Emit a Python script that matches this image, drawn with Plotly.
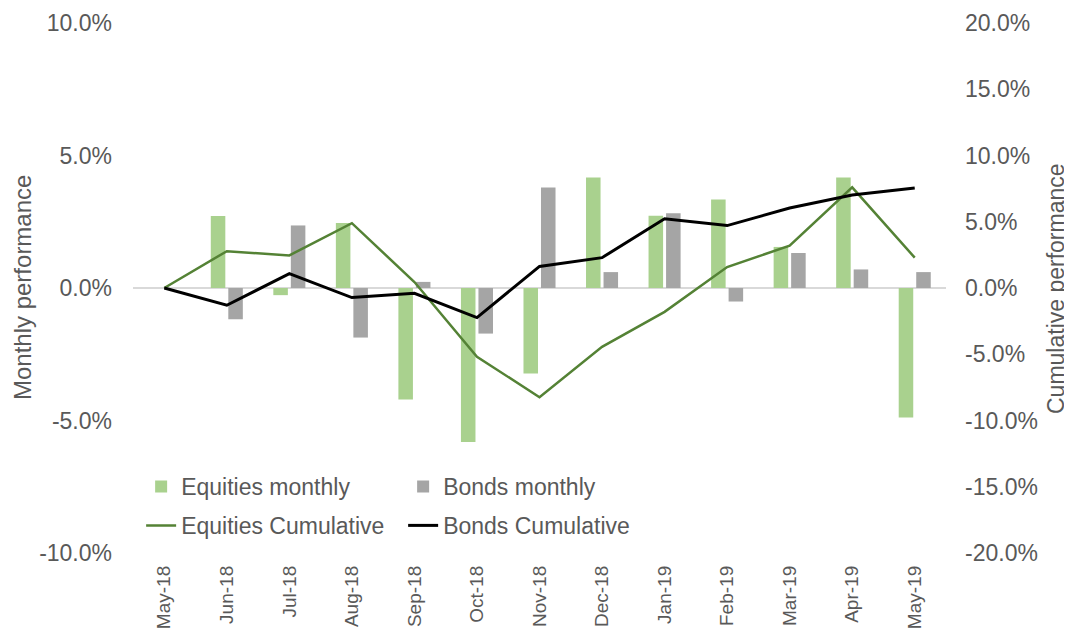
import plotly.graph_objects as go

months = ["May-18", "Jun-18", "Jul-18", "Aug-18", "Sep-18", "Oct-18", "Nov-18",
          "Dec-18", "Jan-19", "Feb-19", "Mar-19", "Apr-19", "May-19"]
equities_monthly = [None, 2.72, -0.27, 2.45, -4.21, -5.81, -3.23, 4.17, 2.73, 3.34, 1.55, 4.17, -4.89]
bonds_monthly = [None, -1.18, 2.36, -1.87, 0.23, -1.72, 3.79, 0.60, 2.82, -0.51, 1.32, 0.70, 0.60]
equities_cum = [0.0, 2.78, 2.46, 4.89, 0.45, -5.19, -8.24, -4.44, -1.80, 1.58, 3.19, 7.60, 2.29]
bonds_cum = [0.0, -1.30, 1.08, -0.72, -0.40, -2.23, 1.63, 2.29, 5.22, 4.71, 6.04, 7.02, 7.55]

left_ticks = [-10, -5, 0, 5, 10]
left_ticktext = ["-10.0%", "-5.0%", "0.0%", "5.0%", "10.0%"]
right_ticks = [-20, -15, -10, -5, 0, 5, 10, 15, 20]
right_ticktext = ["-20.0%", "-15.0%", "-10.0%", "-5.0%", "0.0%", "5.0%", "10.0%", "15.0%", "20.0%"]

GREEN_BAR = "#a9d18e"
GREY_BAR = "#a5a5a5"
GREEN_LINE = "#548235"
TXT = "#595959"
FONT = "Liberation Sans, Arial, sans-serif"

fig = go.Figure()
fig.add_trace(go.Bar(x=months, y=equities_monthly, name="Equities monthly",
                     marker=dict(color=GREEN_BAR, line=dict(width=0)), legend="legend"))
fig.add_trace(go.Bar(x=months, y=bonds_monthly, name="Bonds monthly",
                     marker=dict(color=GREY_BAR, line=dict(width=0)), legend="legend"))
fig.add_trace(go.Scatter(x=months, y=equities_cum, name="Equities Cumulative", mode="lines",
                         line=dict(color=GREEN_LINE, width=2.5), yaxis="y2", legend="legend2"))
fig.add_trace(go.Scatter(x=months, y=bonds_cum, name="Bonds Cumulative", mode="lines",
                         line=dict(color="#000000", width=3), yaxis="y2", legend="legend2"))

fig.update_layout(
    width=1064, height=625,
    margin=dict(l=125, r=126, t=15, b=80),
    paper_bgcolor="white", plot_bgcolor="white",
    font=dict(family=FONT, color=TXT, size=23),
    barmode="group", bargap=0.44, bargroupgap=0.17,
    showlegend=True,
    xaxis=dict(type="category", showgrid=False, showline=False, zeroline=False,
               tickangle=-90, tickfont=dict(size=19, color=TXT), ticks="",
               ticklabelstandoff=8, automargin=False),
    yaxis=dict(range=[-10, 10], tickvals=left_ticks, ticktext=left_ticktext,
               showgrid=False, showline=False, zeroline=True, zerolinecolor="#d9d9d9",
               zerolinewidth=1.5, ticks="", ticklabelstandoff=20,
               tickfont=dict(size=23, color=TXT), automargin=False),
    yaxis2=dict(range=[-20, 20], tickvals=right_ticks, ticktext=right_ticktext,
                overlaying="y", side="right", showgrid=False, showline=False,
                zeroline=False, ticks="", ticklabelstandoff=18,
                tickfont=dict(size=23, color=TXT), automargin=False),
    legend=dict(orientation="h", x=0.01, xanchor="left", y=0.1255, yanchor="middle",
                font=dict(size=23, color=TXT), entrywidth=217, entrywidthmode="pixels",
                bgcolor="rgba(0,0,0,0)", traceorder="normal"),
    legend2=dict(orientation="h", x=0.01, xanchor="left", y=0.052, yanchor="middle",
                 font=dict(size=23, color=TXT), entrywidth=217, entrywidthmode="pixels",
                 bgcolor="rgba(0,0,0,0)", traceorder="normal"),
    annotations=[
        dict(text="Monthly performance", xref="paper", yref="paper", x=-0.1365, y=0.5,
             textangle=-90, showarrow=False, xanchor="center", yanchor="middle",
             font=dict(size=24, color=TXT)),
        dict(text="Cumulative performance", xref="paper", yref="paper", x=1.1353, y=0.5,
             textangle=-90, showarrow=False, xanchor="center", yanchor="middle",
             font=dict(size=23, color=TXT)),
    ],
)

fig.write_html("out.html")
